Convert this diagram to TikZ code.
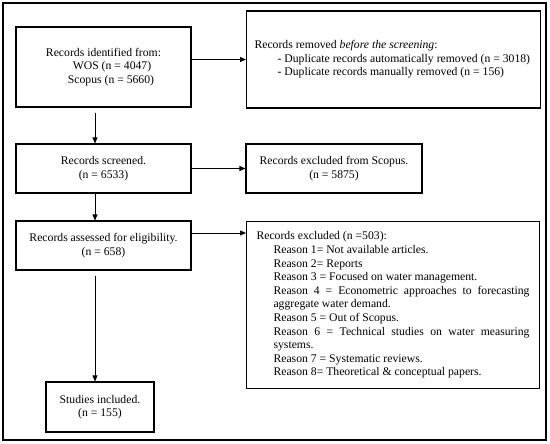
\documentclass[tikz,border=0pt]{standalone}
\usepackage{fontspec}
\setmainfont{Liberation Serif}
\usetikzlibrary{arrows.meta}
\begin{document}
\begin{tikzpicture}[x=1pt,y=-1pt,
  every node/.style={font=\fontsize{11.7}{13.6}\selectfont},
  box/.style={draw, line width=1.1pt, inner sep=0pt, align=center},
  arr/.style={line width=0.7pt, -{Triangle[length=6pt,width=5pt]}}]
\useasboundingbox (0,0) rectangle (550,444);
\draw[line width=1.5pt] (3,3) rectangle (546,440);
% left column
\node[box, minimum width=175pt, minimum height=80pt] (ident) at (103.5,67)
  {Records identified from:\\\hspace*{17pt}WOS (n = 4047)\\\hspace*{15pt}Scopus (n = 5660)};
\node[box, minimum width=175pt, minimum height=49pt] (screen) at (103.5,168.5)
  {Records screened.\\(n = 6533)};
\node[box, minimum width=175pt, minimum height=49pt] (assess) at (103.5,245.5)
  {Records assessed for eligibility.\\(n = 658)};
\node[box, minimum width=108pt, minimum height=50pt] (incl) at (100,407)
  {Studies included.\\(n = 155)};
% right column
\node[box, minimum width=294pt, minimum height=97pt, anchor=west, inner xsep=8pt] (removed) at (246,59.5)
  {\begin{minipage}{278pt}\raggedright
  Records removed \textit{before the screening}:\\
  \hspace*{23pt}- Duplicate records automatically removed (n = 3018)\\
  \hspace*{23pt}- Duplicate records manually removed (n = 156)
  \end{minipage}};
\node[box, minimum width=176pt, minimum height=49pt] (exscop) at (334,168.5)
  {Records excluded from Scopus.\\(n = 5875)};
\node[box, minimum width=293pt, minimum height=167pt, anchor=north west, inner xsep=10pt] (excl) at (246,221)
  {\begin{minipage}{273pt}\hyphenpenalty=10000\exhyphenpenalty=10000
  \parfillskip=0pt plus 1fil
  Records excluded (n =503):\par
  \leftskip=17pt
  Reason 1= Not available articles.\par
  Reason 2= Reports\par
  Reason 3 = Focused on water management.\par
  Reason 4 = Econometric approaches to forecasting aggregate water demand.\par
  Reason 5 = Out of Scopus.\par
  Reason 6 = Technical studies on water measuring systems.\par
  Reason 7 = Systematic reviews.\par
  Reason 8= Theoretical \& conceptual papers.\par
  \end{minipage}};
% connectors
\coordinate (a5) at ([yshift=12.5pt]assess.east);
\draw[arr] (ident.east |- removed.west) -- (removed.west);
\draw[arr] (screen.east) -- (exscop.west);
\draw[arr] (a5) -- (a5 -| excl.west);
\draw[arr] ([xshift=-8.5pt,yshift=-5pt]ident.south) -- ([xshift=-8.5pt]ident.south |- screen.north);
\draw[arr] ([xshift=-8.5pt]screen.south) -- ([xshift=-8.5pt]screen.south |- assess.north);
\draw[arr] ([xshift=-8.5pt,yshift=-5pt]assess.south) -- ([xshift=-8.5pt]assess.south |- incl.north);
\end{tikzpicture}
\end{document}
